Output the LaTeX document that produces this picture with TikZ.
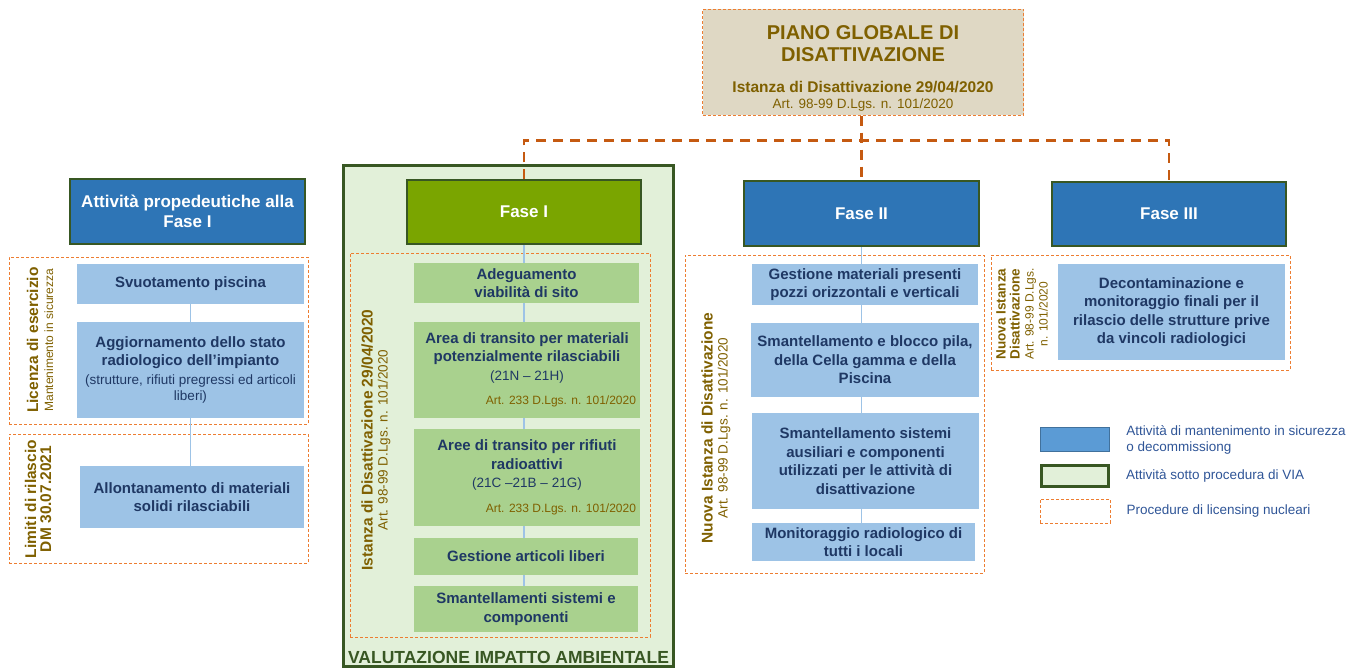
\documentclass[tikz,border=0pt]{standalone}
\usepackage{fontspec}
\setmainfont{Liberation Sans}
\usetikzlibrary{positioning}

\definecolor{gold}{RGB}{127,96,0}
\definecolor{navy}{RGB}{31,56,100}
\definecolor{paleblue}{RGB}{157,195,230}
\definecolor{palegreen}{RGB}{169,209,142}
\definecolor{headblue}{RGB}{46,117,182}
\definecolor{fasegreen}{RGB}{122,165,0}
\definecolor{darkgreen}{RGB}{56,87,35}
\definecolor{viafill}{RGB}{226,240,217}
\definecolor{beige}{RGB}{223,216,196}
\definecolor{licorange}{RGB}{237,125,49}
\definecolor{trunkorange}{RGB}{197,90,17}
\definecolor{legblue}{RGB}{91,155,213}
\definecolor{legedge}{RGB}{65,113,156}
\definecolor{legtext}{RGB}{47,85,151}

\newcommand{\plainline}[1]{{\mdseries\fontsize{13.5}{16}\selectfont #1}}
\newcommand{\smallref}[1]{{\mdseries\fontsize{12}{14}\selectfont #1}}
\newcommand{\artdl}{Art. 98-99 D.Lgs. n. 101/2020}
\newcommand{\artline}{\makebox[218pt][r]{\mdseries\fontsize{12}{14}\selectfont\color{gold}Art. 233 D.Lgs. n. 101/2020}}

\begin{document}
\begin{tikzpicture}[x=1pt,y=-1pt,node distance=16pt,
  head/.style={draw=darkgreen,line width=1.5pt,fill=headblue,text=white,
    font=\fontsize{17}{20}\selectfont\bfseries,align=center,inner sep=0pt},
  item/.style={fill=paleblue,text=navy,font=\fontsize{15}{18.5}\selectfont\bfseries,
    align=center,inner sep=0pt},
  greenitem/.style={item,fill=palegreen},
  lic/.style={draw=licorange,line width=0.9pt,dash pattern=on 3pt off 2pt,inner sep=0pt},
  vlab/.style={rotate=90,text=gold,align=center,
    font=\fontsize{15.5}{15}\selectfont\bfseries,inner sep=0pt},
  link/.style={draw=paleblue,line width=1.2pt},
  trunk/.style={draw=trunkorange,line width=2.5pt,dash pattern=on 10pt off 7pt},
  legtxt/.style={text=legtext,font=\fontsize{13.5}{16}\selectfont,align=left,inner sep=0pt}]
  \useasboundingbox (0,0) rectangle (1368,670);

  % VIA frame
  \node (via) [draw=darkgreen,line width=3pt,fill=viafill,minimum width=330pt,minimum height=501pt] at (508.5,416) {};
  \node (vialab) [text=darkgreen,font=\fontsize{17.5}{20}\selectfont\bfseries,inner sep=0pt] at (508.5,657) {VALUTAZIONE IMPATTO AMBIENTALE};

  % global plan
  \node (piano) [lic,line width=1pt,fill=beige,minimum width=321pt,minimum height=106pt] at (863,62) {};
  \node (pianotxt) [text=gold,align=center,inner sep=0pt,font=\fontsize{20}{22}\selectfont\bfseries] at (863,68)
    {PIANO GLOBALE DI\\DISATTIVAZIONE\\[9pt]\fontsize{15.5}{17}\selectfont Istanza di Disattivazione 29/04/2020\\[-6pt]\plainline{\artdl}};

  % headers
  \node (pre) [head,minimum width=235pt,minimum height=65pt] at (187.5,211.5) {Attività propedeutiche alla\\Fase I};
  \node (f1) [head,draw=darkgreen,fill=fasegreen,minimum width=234pt,minimum height=64pt] at (524,212) {Fase I};
  \node (f2) [head,minimum width=235pt,minimum height=65pt] at (861.5,213.5) {Fase II};
  \node (f3) [head,minimum width=234pt,minimum height=64pt] at (1169,214) {Fase III};

  % licensing frames
  \node (lic1) [lic,minimum width=299pt,minimum height=167pt] at (158.5,340.5) {};
  \node (lic2) [lic,minimum width=299pt,minimum height=129pt] at (158.5,498.5) {};
  \node (lic3) [lic,minimum width=300pt,minimum height=384pt] at (500,445) {};
  \node (lic4) [lic,minimum width=299pt,minimum height=318pt] at (834.5,414) {};
  \node (lic5) [lic,minimum width=299pt,minimum height=115pt] at (1140.5,312.5) {};

  % preparatory activities
  \node (a1) [item,minimum width=227pt,minimum height=40pt] at (190.5,284) {Svuotamento piscina};
  \node (a2) [item,minimum width=227pt,minimum height=96pt] at (190.5,370)
    {Aggiornamento dello stato\\radiologico dell’impianto\\\plainline{(strutture, rifiuti pregressi ed articoli}\\[-2pt]\plainline{liberi)}};
  \node (a3) [item,minimum width=224pt,minimum height=62pt] at (192,497) {Allontanamento di materiali\\solidi rilasciabili};
  \node (lab1) [vlab] at (40,340) {Licenza di esercizio\\\smallref{Mantenimento in sicurezza}};
  \node (lab2) [vlab] at (38,499) {Limiti di rilascio\\DM 30.07.2021};

  % Fase I
  \node (b1) [greenitem,minimum width=225pt,minimum height=40pt] at (526.5,283) {Adeguamento\\viabilità di sito};
  \node (b2) [greenitem,minimum width=226pt,minimum height=96pt] at (527,370)
    {Area di transito per materiali\\potenzialmente rilasciabili\\\plainline{(21N -- 21H)}\\[6pt]\artline};
  \node (b3) [greenitem,minimum width=226pt,minimum height=97pt] at (527,477.5)
    {Aree di transito per rifiuti\\radioattivi\\\plainline{(21C --21B -- 21G)}\\[6pt]\artline};
  \node (b4) [greenitem,minimum width=224pt,minimum height=37pt] at (526,556.5) {Gestione articoli liberi};
  \node (b5) [greenitem,minimum width=224pt,minimum height=46pt] at (526,609) {Smantellamenti sistemi e\\componenti};
  \node (lab3) [vlab] at (376,440) {Istanza di Disattivazione 29/04/2020\\\plainline{\artdl}};

  % Fase II
  \node (c1) [item,minimum width=226pt,minimum height=41pt] at (865,284.5) {Gestione materiali presenti\\pozzi orizzontali e verticali};
  \node (c2) [item,minimum width=228pt,minimum height=74pt] at (865,360) {Smantellamento e blocco pila,\\della Cella gamma e della\\Piscina};
  \node (c3) [item,minimum width=227pt,minimum height=96pt] at (865.5,461) {Smantellamento sistemi\\ausiliari e componenti\\utilizzati per le attività di\\disattivazione};
  \node (c4) [item,minimum width=223pt,minimum height=38pt] at (863.5,542) {Monitoraggio radiologico di\\tutti i locali};
  \node (lab4) [vlab] at (716,428) {Nuova Istanza di Disattivazione\\\plainline{\artdl}};

  % Fase III
  \node (d1) [item,minimum width=227pt,minimum height=96pt] at (1171.5,312) {Decontaminazione e\\monitoraggio finali per il\\rilascio delle strutture prive\\da vincoli radiologici};
  \node (lab5) [vlab,font=\fontsize{13.5}{14}\selectfont\bfseries] at (1022,314) {Nuova Istanza\\Disattivazione\\\smallref{Art. 98-99 D.Lgs.}\\\smallref{n. 101/2020}};

  % connectors
  \draw[trunk] (piano.south -| f2.north) -- (f2.north);
  \draw[trunk] (f1.north) -- ++(0,-39) -| (f3.north);
  \draw[link] (a1) -- (a2);
  \draw[link] (a2.south) -- (a2.south |- a3.north);
  \draw[link] (f1.south) -- (b1.north -| f1.south);
  \draw[link] (b1.south -| f1.south) -- (b2.north -| f1.south);
  \draw[link] (b2.south -| f1.south) -- (b3.north -| f1.south);
  \draw[link] (b3.south -| f1.south) -- (b4.north -| f1.south);
  \draw[link] (b4.south -| f1.south) -- (b5.north -| f1.south);
  \draw[link] (f2.south) -- (c1.north -| f2.south);
  \draw[link] (c1.south -| f2.south) -- (c2.north -| f2.south);
  \draw[link] (c2.south -| f2.south) -- (c3.north -| f2.south);
  \draw[link] (c3.south -| f2.south) -- (c4.north -| f2.south);

  % legend
  \node (lg1) [draw=legedge,line width=1.5pt,fill=legblue,minimum width=69pt,minimum height=24pt,inner sep=0pt] at (1075,439.5) {};
  \node (lg2) [draw=darkgreen,line width=3pt,fill=viafill,minimum width=67pt,minimum height=21pt,inner sep=0pt] at (1075,476) {};
  \node (lg3) [lic,minimum width=70pt,minimum height=24pt] at (1075,511) {};
  \node (t1) [legtxt,right=16pt of lg1] {Attività di mantenimento in sicurezza\\o decommissiong};
  \node (t2) [legtxt,right=16pt of lg2] {Attività sotto procedura di VIA};
  \node (t3) [legtxt,right=16pt of lg3] {Procedure di licensing nucleari};
\end{tikzpicture}
\end{document}
